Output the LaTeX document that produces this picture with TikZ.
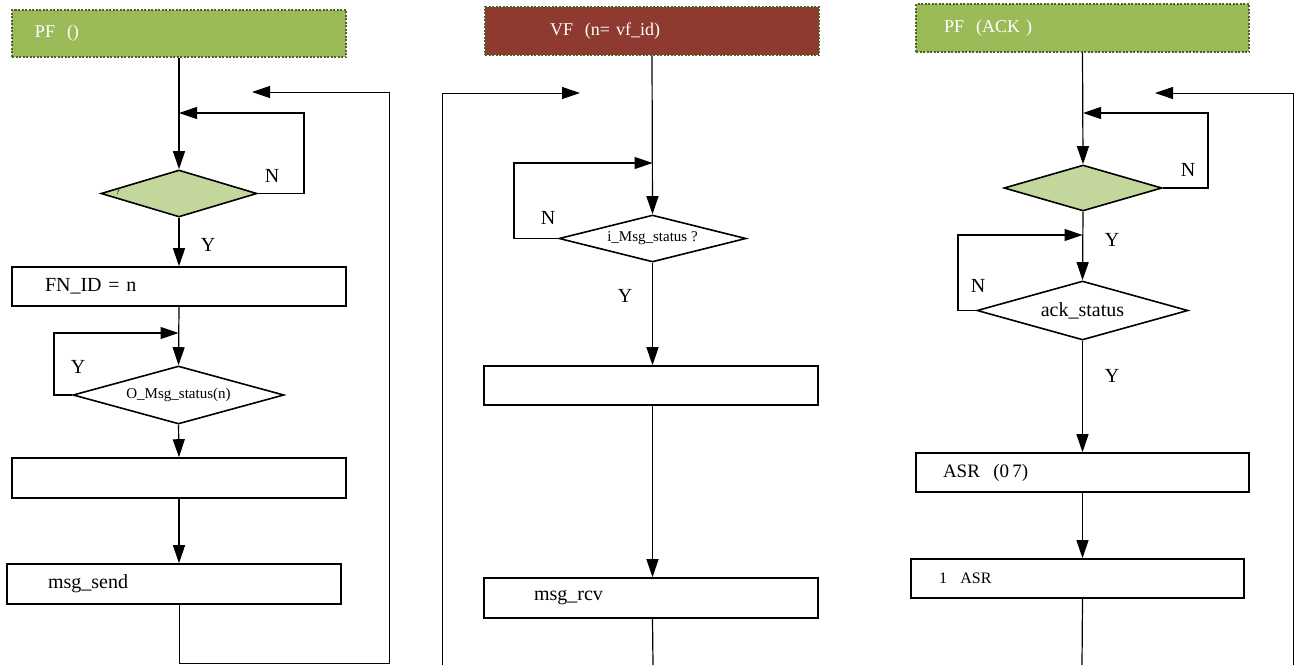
\documentclass[tikz,border=0pt]{standalone}
\usepackage{fontspec}
\setmainfont{Liberation Serif}
\usetikzlibrary{arrows.meta,shapes.geometric}
\newcommand\fsz[1]{\fontsize{#1}{#1}\selectfont}
\definecolor{hdrgreen}{HTML}{9BBB59}
\definecolor{hdrred}{HTML}{8F3A31}
\definecolor{hdrrule}{HTML}{4F6228}
\definecolor{condfill}{HTML}{C3D69B}
\tikzset{
  tip/.tip={Triangle[length=18pt,width=12pt]},
  conn/.style={line width=1.2pt},
  arr/.style={conn,-tip},
  back/.style={line width=1pt,-tip},
  hdr/.style={draw=hdrrule, line width=1.1pt, dash pattern=on 2pt off 1.5pt,
    minimum height=47pt, inner sep=0pt, align=left, text=white, font=\fsz{18}},
  proc/.style={draw, line width=1.6pt, minimum height=39pt, inner sep=0pt,
    align=left, font=\fsz{20}},
  cond/.style={draw, line width=1.6pt, shape=diamond, shape aspect=4, inner sep=0pt},
  yn/.style={font=\fsz{20}}
}
\begin{document}
\begin{tikzpicture}[x=1pt,y=-1pt]
\useasboundingbox (0,0) rectangle (1298,665);

% ---------- left column: PF ----------
\node[hdr, fill=hdrgreen, text width=334pt] (h1) at (179,33.5) {\hspace*{23pt}PF\ \ ()};
\node[cond, fill=condfill, minimum width=156pt, minimum height=47pt] (d1) at (179,193.5) {};
\node[font=\fsz{8}] (q1) at (118,192) {?};
\node[proc, text width=334pt] (b1) at (179,286.5) {\hspace*{33pt}FN\_ID = n};
\node[cond, minimum width=211pt, minimum height=58pt, font=\fsz{15}] (d2) at (178.5,395) {O\_Msg\_status(n)};
\node[proc, text width=334pt, minimum height=40pt] (b2) at (179,478) {};
\node[proc, text width=334pt, minimum height=40pt] (b3) at (174,584) {\hspace*{41pt}msg\_send};

\coordinate (n1) at (304,113);
\coordinate (y1) at (54,333);
\coordinate (r1) at (389,663);
\coordinate (r1t) at (252,92);

\draw[arr] (h1.south) -- (d1.north);
\draw[arr] (d1.east) -- (d1.east -| n1) -- (n1) -- (n1 -| d1.north);
\draw[arr] (d1.south) -- (b1.north);
\draw[arr] (b1.south) -- (d2.north);
\draw[arr] (d2.west) -- (d2.west -| y1) -- (y1) -- (y1 -| d2.north);
\draw[arr] (d2.south) -- (b2.north);
\draw[arr] (b2.south) -- (b2.south |- b3.north);
\draw[back] (b2.south |- b3.south) -- (b2.south |- r1) -- (r1) -- (r1 |- r1t) -- (r1t);

\node[yn] (l1) at (272,176) {N};
\node[yn] (l2) at (208,245) {Y};
\node[yn] (l3) at (78,367) {Y};

% ---------- middle column: VF ----------
\node[hdr, fill=hdrred, text width=334pt, minimum height=48pt] (h2) at (652,31) {\hspace*{65pt}VF\ \ (n= vf\_id)};
\node[cond, minimum width=187pt, minimum height=47pt, font=\fsz{15}] (d3) at (652.5,238.5) {i\_Msg\_status ?};
\node[proc, text width=334pt] (b4) at (651,385.5) {};
\node[proc, text width=334pt, minimum height=40pt] (b5) at (651,598) {\hspace*{50pt}msg\_rcv};

\coordinate (n3) at (514,163);
\coordinate (m3b) at (442,665);
\coordinate (m3t) at (580,93);
\coordinate (e3) at (653,665);

\draw[arr] (h2.south) -- (d3.north);
\draw[arr] (d3.west) -- (d3.west -| n3) -- (n3) -- (n3 -| d3.north);
\draw[arr] (d3.south) -- (d3.south |- b4.north);
\draw[arr] (d3.south |- b4.south) -- (d3.south |- b5.north);
\draw[conn] (d3.south |- b5.south) -- (e3);
\draw[back] (m3b) -- (m3b |- m3t) -- (m3t);

\node[yn] (l4) at (548,218) {N};
\node[yn] (l5) at (625,296) {Y};

% ---------- right column: PF (ACK) ----------
\node[hdr, fill=hdrgreen, text width=333pt, minimum height=48pt] (h3) at (1082.5,28) {\hspace*{28pt}PF\ \ (ACK\ )};
\node[cond, fill=condfill, minimum width=158pt, minimum height=46pt] (d4) at (1083,188) {};
\node[cond, minimum width=211pt, minimum height=59pt, font=\fsz{20}] (d5) at (1082.5,310.5) {ack\_status};
\node[proc, text width=333pt] (b6) at (1082.5,472.5) {\hspace*{27pt}{\fsz{19}ASR\ \ (0\,7)}};
\node[proc, text width=333pt] (b7) at (1077.5,578.5) {\hspace*{28pt}{\fsz{16}1\ \ ASR}};

\coordinate (n4) at (1208,113);
\coordinate (n5) at (958,235);
\coordinate (r3b) at (1293,665);
\coordinate (r3t) at (1155,93);
\coordinate (e5) at (1082,665);

\draw[arr] (h3.south) -- (d4.north);
\draw[arr] (d4.east) -- (d4.east -| n4) -- (n4) -- (n4 -| d4.north);
\draw[arr] (d4.south) -- (d5.north);
\draw[arr] (d5.west) -- (d5.west -| n5) -- (n5) -- (n5 -| d5.north);
\draw[arr] (d5.south) -- (b6.north);
\draw[arr] (b6.south) -- (b6.south |- b7.north);
\draw[conn] (b6.south |- b7.south) -- (e5);
\draw[back] (r3b) -- (r3b |- r3t) -- (r3t);

\node[yn] (l6) at (1188,170) {N};
\node[yn] (l7) at (1112,240) {Y};
\node[yn] (l8) at (978,286) {N};
\node[yn] (l9) at (1112,376) {Y};
\end{tikzpicture}
\end{document}
